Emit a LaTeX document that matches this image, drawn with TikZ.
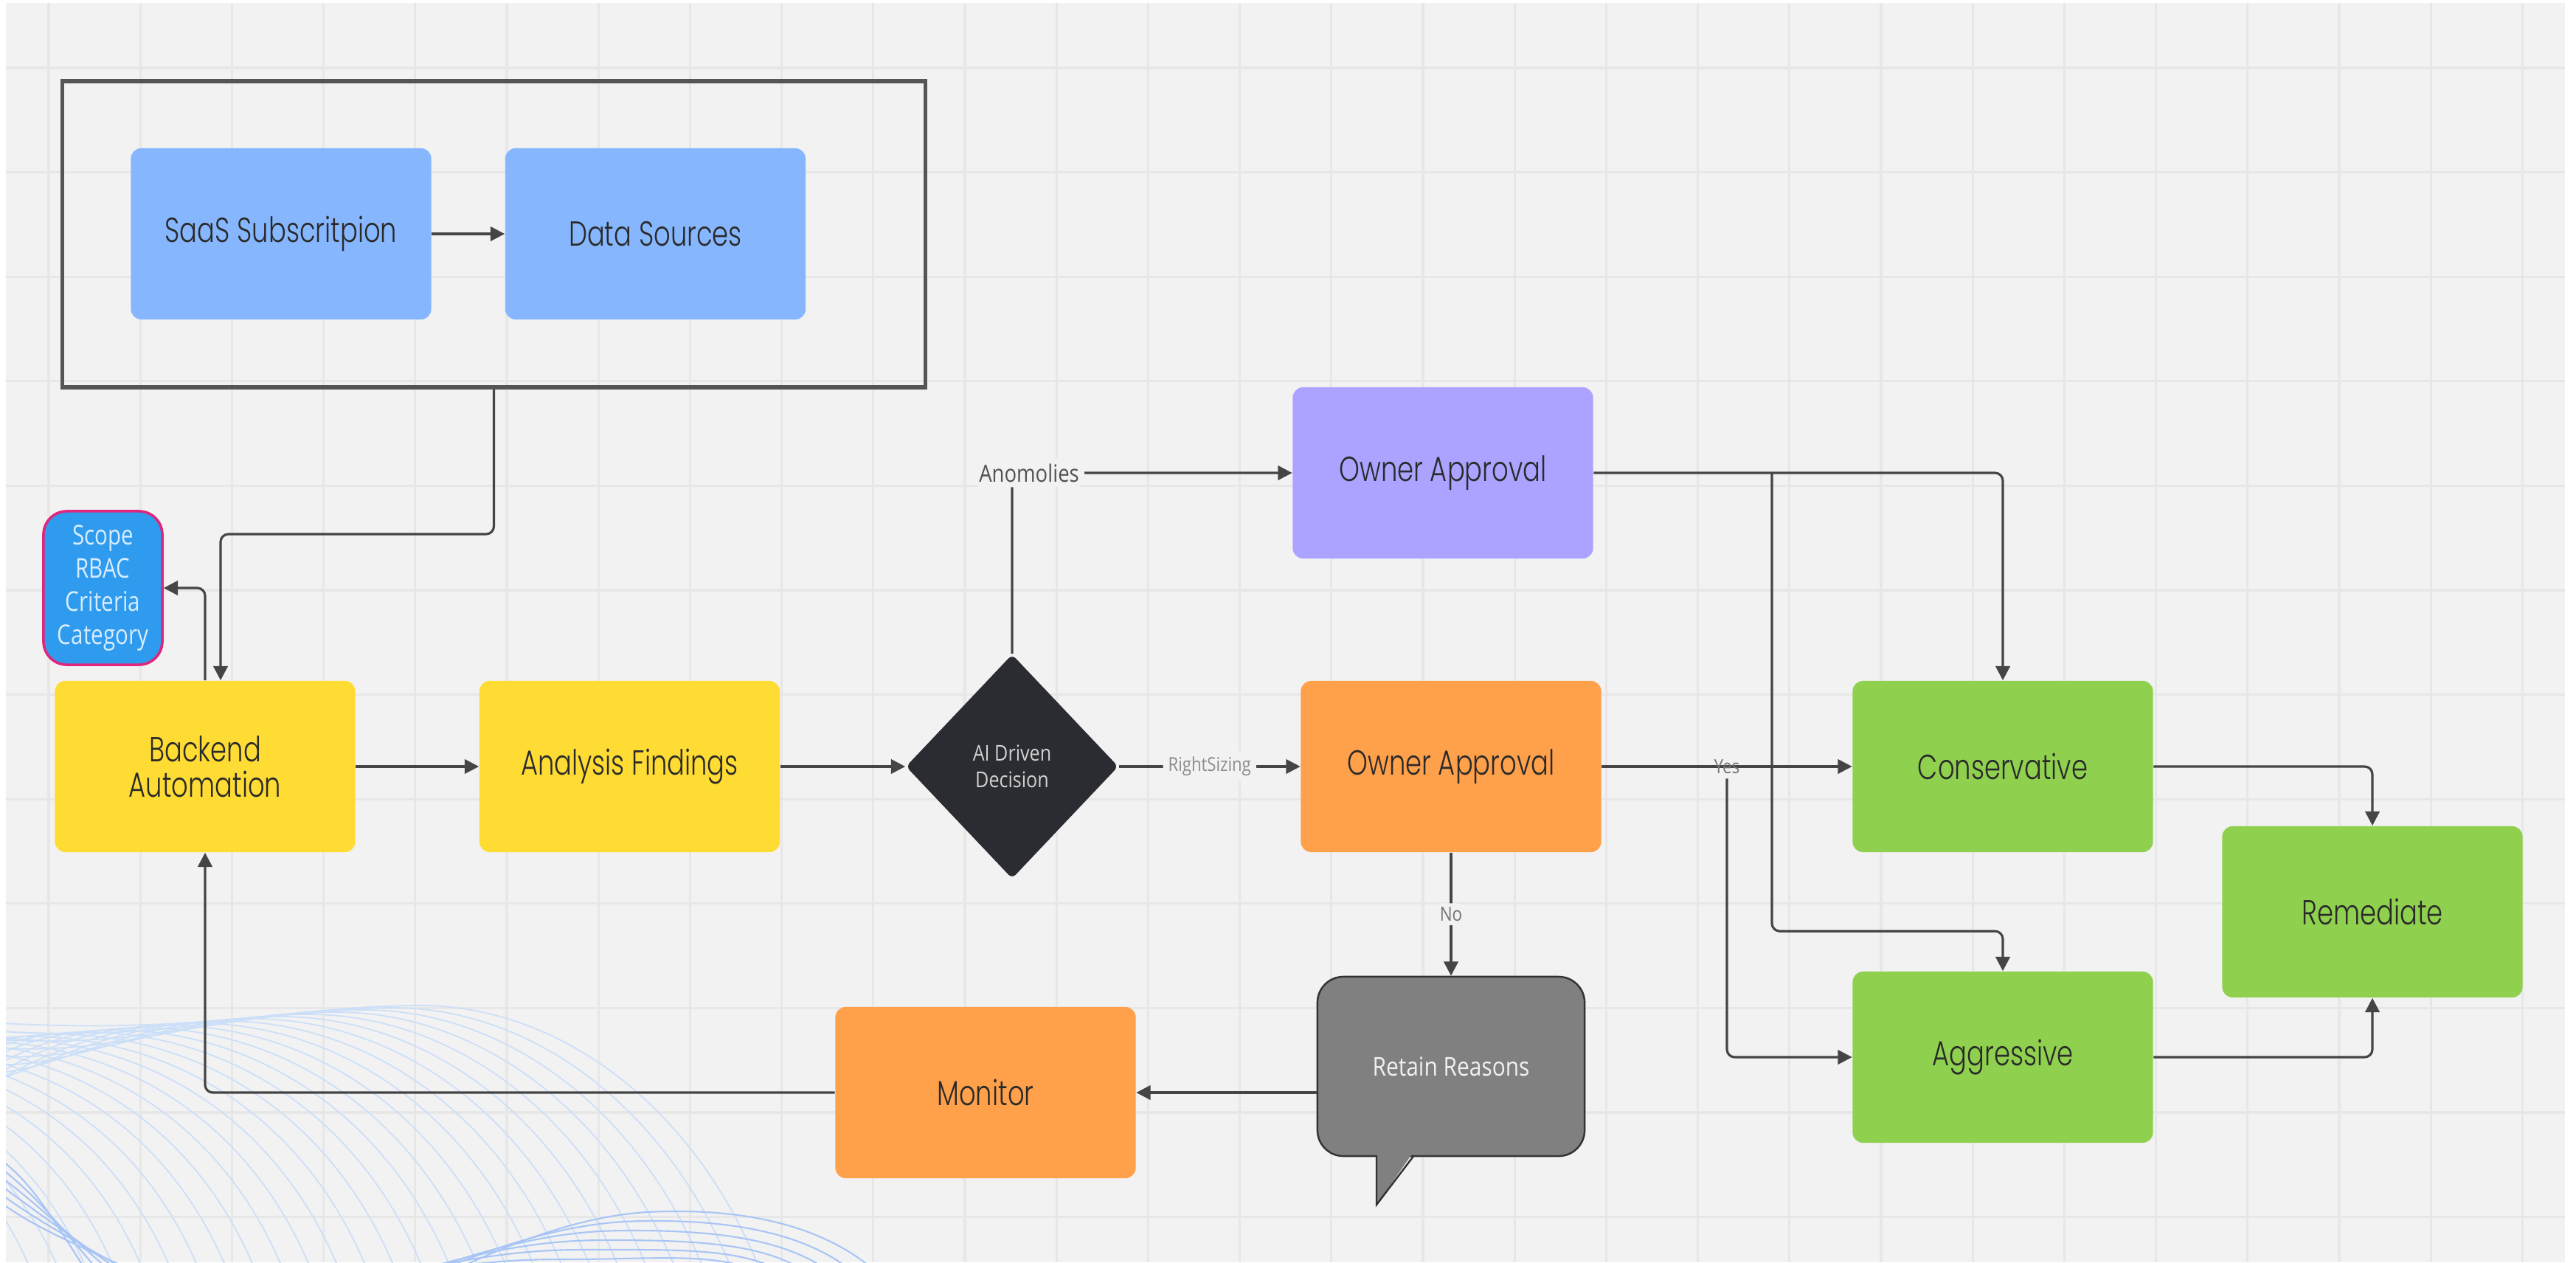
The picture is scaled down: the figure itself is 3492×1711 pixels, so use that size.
\documentclass[tikz,border=0pt]{standalone}
\usepackage{fontspec}
\setmainfont{Poppins}[UprightFont={* Light}, FakeStretch=0.75]
\newfontfamily\osans{Open Sans}[FakeStretch=0.85]
\newfontfamily\osansn{Open Sans}[FakeStretch=0.8]
\usetikzlibrary{arrows.meta,shapes.geometric}
\definecolor{bg}{HTML}{F2F2F2}
\definecolor{gridc}{HTML}{E7E7E7}
\definecolor{blueA}{HTML}{86B7FE}
\definecolor{yel}{HTML}{FFDC34}
\definecolor{purp}{HTML}{ABA3FF}
\definecolor{oran}{HTML}{FFA04B}
\definecolor{grn}{HTML}{8FD14F}
\definecolor{darkd}{HTML}{2B2C31}
\definecolor{scopef}{HTML}{2F9BEE}
\definecolor{scoped}{HTML}{E0267C}
\definecolor{scopet}{HTML}{D8ECFF}
\definecolor{bubg}{HTML}{808080}
\definecolor{bubl}{HTML}{333333}
\definecolor{txt}{HTML}{2A2A2A}
\definecolor{lc}{HTML}{454545}
\definecolor{framec}{HTML}{555555}
\definecolor{wavea}{HTML}{CCDFF8}
\definecolor{waveb}{HTML}{A9C5F5}
\newcommand\mainfs{\fontsize{13.4pt}{13.7pt}\selectfont}
\begin{document}
\begin{tikzpicture}[x=0.01cm,y=-0.01cm,
  box/.style={rectangle, rounded corners=4pt, minimum width=4.07cm, minimum height=2.32cm, inner sep=2pt, align=center, font=\mainfs, text=txt},
  framebox/.style={rectangle, draw=framec, line width=1.5pt, minimum width=11.69cm, minimum height=4.15cm, inner sep=0pt},
  scopebox/.style={rectangle, rounded corners=9pt, fill=scopef, draw=scoped, line width=1pt, minimum width=1.61cm, minimum height=2.08cm, inner sep=1pt, align=center, text=scopet, font={\osansn\fontsize{10.5pt}{12.8pt}\selectfont}},
  dia/.style={diamond, rounded corners=2pt, fill=darkd, minimum width=2.88cm, minimum height=3.04cm, inner sep=0pt, align=center, text=black!18, font={\osans\fontsize{8.4pt}{10.2pt}\selectfont}},
  bubble/.style={rectangle, rounded corners=10pt, fill=bubg, draw=bubl, line width=0.7pt, minimum width=3.62cm, minimum height=2.43cm, inner sep=1pt, text=black!6, font={\osans\fontsize{10pt}{12pt}\selectfont}},
  conn/.style={draw=lc, line width=0.9pt, rounded corners=3pt},
  arr/.style={conn, -{Triangle[length=5.5pt,width=5.5pt]}},
  lblA/.style={fill=bg, inner sep=2pt, text=black!68, font={\osans\fontsize{9.2pt}{11pt}\selectfont}},
  lblsmall/.style={fill=bg, inner sep=2pt, text=black!45, font={\osans\fontsize{7.4pt}{9pt}\selectfont}},
  lblyn/.style={fill=bg, inner sep=1.5pt, text=black!55, font={\osans\fontsize{7.5pt}{9pt}\selectfont}},
  lblyes/.style={inner sep=1.5pt, text=black!55, font={\osans\fontsize{7.5pt}{9pt}\selectfont}},
  gridl/.style={draw=gridc, line width=0.9pt},
  wave/.style={draw=wavea, line width=0.5pt},
  waveB/.style={draw=waveb, line width=0.6pt}
]
\useasboundingbox (0,0) rectangle (3492,1711);
\fill[white] (0,0) rectangle (3492,1711);
\fill[bg] (8,4) rectangle (3477,1711);
% grid
\foreach \k in {0,...,27} \draw[gridl] ({66+124.2*\k},4) -- ({66+124.2*\k},1711);
\foreach \k in {0,...,11} \draw[gridl] (8,{92+141.6*\k}) -- (3477,{92+141.6*\k});
% decorative waves
\begin{scope}
\clip (8,4) rectangle (3477,1711);
\foreach \i in {0,...,27}{
  \pgfmathsetmacro\wc{571-38*\i}
  \pgfmathsetmacro\wp{1363+3*\i}
  \pgfmathsetmacro\ws{1385+11*\i}
  \draw[wave] (-30,\ws) .. controls ({\wc-300},{\ws+20}) and ({\wc-180},\wp) .. (\wc,\wp) .. controls ({\wc+200},\wp) and ({\wc+400},1520) .. ({\wc+480},1780);
}
\foreach \j in {0,...,6}{
  \pgfmathsetmacro\wc{920-30*\j}
  \pgfmathsetmacro\wp{1642+13*\j}
  \draw[waveB] ({\wc-380},1760) .. controls ({\wc-160},\wp) and ({\wc-60},\wp) .. (\wc,\wp) .. controls ({\wc+150},\wp) and ({\wc+250},1690) .. ({\wc+300},1760);
}
\foreach \k in {0,...,5}{
  \draw[waveB] (-40,{1540+12*\k}) .. controls (40,{1600+12*\k}) .. ({140+25*\k},1760);
}
\end{scope}
% nodes
\node[box, fill=blueA] (saas) at (381,317) {SaaS Subscritpion};
\node[box, fill=blueA] (data) at (888.5,317) {Data Sources};
\node[framebox] (frame) at (669.5,317.5) {};
\node[scopebox] (scope) at (139.5,797) {Scope\\RBAC\\Criteria\\Category};
\node[box, fill=yel] (backend) at (278,1039) {Backend\\Automation};
\node[box, fill=yel] (analysis) at (853.5,1039) {Analysis Findings};
\node[dia] (dec) at (1372,1039) {AI Driven\\Decision};
\node[box, fill=purp] (ownerA) at (1956,641) {Owner Approval};
\node[box, fill=oran] (ownerB) at (1967,1039) {Owner Approval};
\node[box, fill=grn] (cons) at (2715,1039) {Conservative};
\node[box, fill=grn] (rem) at (3216,1236) {Remediate};
\node[box, fill=grn] (aggr) at (2715,1433) {Aggressive};
\node[box, fill=oran] (monitor) at (1336,1481) {Monitor};
\node[bubble] (retain) at (1967,1445.5) {Retain Reasons};
\fill[bubg] (1866,1560) -- (1917,1560) -- (1866,1633) -- cycle;
\draw[draw=bubl, line width=0.7pt] (1866,1566) -- (1866,1633) -- (1917,1566);
% connectors
\draw[arr] (saas) -- (data);
\draw[arr] (frame.south) -- (669.5,724) -- (299,724) -- ([xshift=0.21cm]backend.north);
\draw[arr] (backend.north) |- (scope.east);
\draw[arr] (backend) -- (analysis);
\draw[arr] (analysis) -- (dec);
\draw[arr] (dec.east) -- node[lblsmall]{RightSizing} (ownerB.west);
\draw[arr] (dec.north) |- node[lblA, pos=0.5, xshift=0.23cm]{Anomolies} (ownerA.west);
\draw[arr] (ownerB) -- node[lblyes] (yes) {Yes} (cons);
\draw[arr] (yes.south) |- (aggr.west);
\draw[arr] (ownerA.east) -| (cons.north);
\coordinate (br) at (2402,641);
\draw[arr] (br) |- ([yshift=0.54cm]aggr.north) -- (aggr.north);
\draw[arr] (cons.east) -| (rem.north);
\draw[arr] (aggr.east) -| (rem.south);
\draw[arr] (ownerB.south) -- node[lblyn]{No} (retain.north);
\draw[arr] (monitor.east -| retain.west) -- (monitor.east);
\draw[arr] (monitor.west) -| (backend.south);
\end{tikzpicture}
\end{document}
